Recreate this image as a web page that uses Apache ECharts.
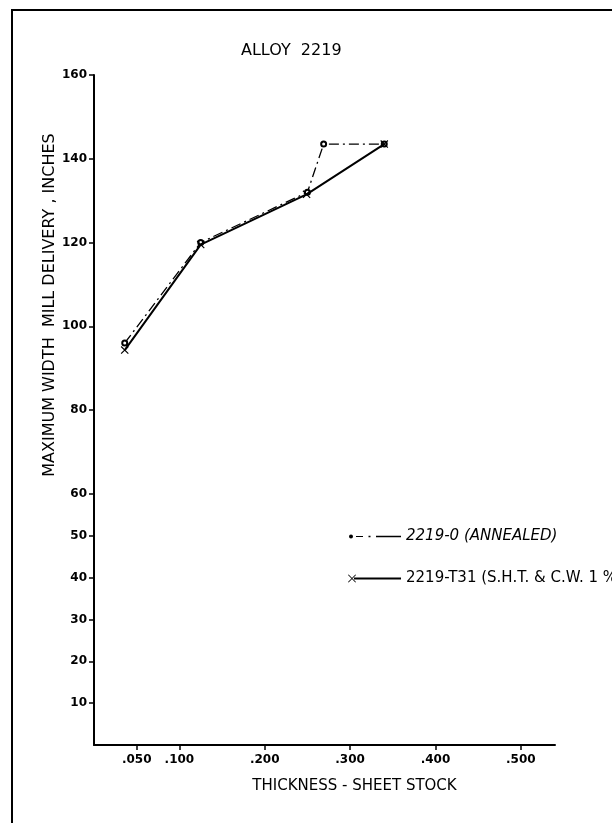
<!DOCTYPE html>
<html>
<head>
<meta charset="utf-8">
<script src="https://cdn.jsdelivr.net/npm/echarts@6.0.0/dist/echarts.min.js"></script>
<style>
  html, body { margin: 0; padding: 0; background: #fff; }
  #chart { width: 612px; height: 823px; }
</style>
</head>
<body>
<div id="chart"></div>
<script>
// data
var thicknessO = [0.036, 0.125, 0.250, 0.269, 0.340];
var widthO = [96, 120, 132, 143.5, 143.5];
var thicknessT31 = [0.036, 0.125, 0.249, 0.340];
var widthT31 = [94.3, 119.5, 131.5, 143.5];
var xTicks = [0.05, 0.1, 0.2, 0.3, 0.4, 0.5];
var yTicks = [10, 20, 30, 40, 50, 60, 80, 100, 120, 140, 160];
var nameO = '2219-0 (ANNEALED)';
var nameT31 = '2219-T31 (S.H.T. & C.W. 1 %)';

var font = 'DejaVu Sans';
var xMark = 'path://M0,0.8 L0.8,0 L8,7.2 L7.2,8 Z M7.2,0 L8,0.8 L0.8,8 L0,7.2 Z';
// legend icons: dot + dash-dot, and x + solid line
var iconO = 'path://M0,3 A2,2 0 1,1 4,3 A2,2 0 1,1 0,3 Z M7,2.4 L14,2.4 L14,3.6 L7,3.6 Z M19.5,2.3 L21.5,2.3 L21.5,3.7 L19.5,3.7 Z M27,2.3 L52,2.3 L52,3.7 L27,3.7 Z';
var iconT = 'path://M0,0.6 L0.6,0 L8,7.4 L7.4,8 Z M7.4,0 L8,0.6 L0.6,8 L0,7.4 Z M6,3 L53,3 L53,5 L6,5 Z';

function pairs(xs, ys) {
  return xs.map(function (x, i) { return [x, ys[i]]; });
}

var chart = echarts.init(document.getElementById('chart'));
var option = {
  backgroundColor: '#fff',
  animation: false,
  title: {
    text: 'ALLOY  2219',
    left: 236,
    top: 38,
    textStyle: { fontFamily: font, fontSize: 16, fontWeight: 'normal', color: '#000' }
  },
  grid: { left: 94, top: 75, right: 57, bottom: 78 },
  legend: [
    {
      orient: 'vertical', left: 344, top: 524,
      itemWidth: 52, itemHeight: 4,
      data: [{ name: nameO, icon: iconO }],
      itemStyle: { color: '#000', borderWidth: 0 },
      textStyle: { fontFamily: font, fontSize: 15, color: '#000', fontStyle: 'italic' },
      selectedMode: false
    },
    {
      orient: 'vertical', left: 343, top: 566,
      itemWidth: 53, itemHeight: 8,
      data: [{ name: nameT31, icon: iconT }],
      itemStyle: { color: '#000', borderWidth: 0 },
      textStyle: { fontFamily: font, fontSize: 15, color: '#000' },
      selectedMode: false
    }
  ],
  xAxis: {
    type: 'value', min: 0, max: 0.54,
    name: 'THICKNESS - SHEET STOCK',
    nameLocation: 'middle', nameGap: 34,
    nameTextStyle: { fontFamily: font, fontSize: 15, color: '#000', padding: [0, 0, 0, 60] },
    axisLine: { lineStyle: { color: '#000', width: 2 } },
    axisTick: { customValues: xTicks, length: 5, lineStyle: { color: '#000', width: 1.5 } },
    axisLabel: {
      customValues: xTicks, margin: 9,
      fontFamily: font, fontSize: 12, fontWeight: 'bold', color: '#000',
      formatter: function (v) { return '.' + String(Math.round(v * 1000)).padStart(3, '0'); }
    },
    splitLine: { show: false }
  },
  yAxis: {
    type: 'value', min: 0, max: 160,
    axisLine: { show: true, lineStyle: { color: '#000', width: 2 } },
    axisTick: { show: true, customValues: yTicks, length: 5, lineStyle: { color: '#000', width: 1.5 } },
    axisLabel: { customValues: yTicks, margin: 7, fontFamily: font, fontSize: 12, fontWeight: 'bold', color: '#000' },
    splitLine: { show: false }
  },
  graphic: [
    {
      type: 'rect', silent: true,
      shape: { x: 12, y: 10, width: 660, height: 860 },
      style: { fill: 'none', stroke: '#000', lineWidth: 2 }
    },
    {
      type: 'text', silent: true,
      x: 50, y: 305, rotation: Math.PI / 2,
      style: {
        text: 'MAXIMUM WIDTH  MILL DELIVERY , INCHES',
        font: '16px "DejaVu Sans"', fill: '#000',
        align: 'center', verticalAlign: 'middle'
      }
    }
  ],
  series: [
    {
      name: nameO, type: 'line',
      data: pairs(thicknessO, widthO),
      symbol: 'emptyCircle', symbolSize: 5,
      itemStyle: { color: '#000', borderColor: '#000', borderWidth: 1 },
      lineStyle: { color: '#000', width: 1.3, type: [10, 4, 2, 4] },
      z: 3
    },
    {
      name: nameT31, type: 'line',
      data: pairs(thicknessT31, widthT31),
      symbol: xMark, symbolSize: 8,
      itemStyle: { color: '#000' },
      lineStyle: { color: '#000', width: 2 },
      z: 4
    }
  ]
};
chart.setOption(option);
</script>
</body>
</html>
